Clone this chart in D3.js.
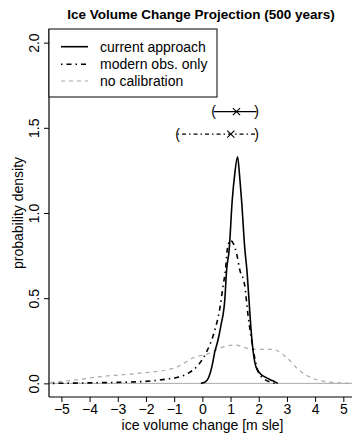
<!DOCTYPE html>
<html>
<head>
<meta charset="utf-8">
<script src="https://cdn.jsdelivr.net/npm/d3@7"></script>
<style>
  html, body { margin: 0; padding: 0; background: #fff; }
  svg { display: block; }
  text { font-family: "Liberation Sans", Arial, Helvetica, sans-serif; fill: #000; }
</style>
</head>
<body>
<svg id="chart" width="352" height="433"></svg>
<script>
// ---------- data ----------
const currentX = [-0.05, 0.10, 0.21, 0.35, 0.44, 0.54, 0.66, 0.80, 0.86, 0.95, 1.06, 1.15, 1.25, 1.32, 1.39, 1.51, 1.58, 1.65, 1.72, 1.80, 1.90, 2.04, 2.25, 2.50, 2.68];
const currentY = [0.000, 0.008, 0.030, 0.107, 0.185, 0.244, 0.340, 0.500, 0.665, 0.782, 1.076, 1.230, 1.330, 1.220, 1.076, 0.782, 0.665, 0.500, 0.330, 0.190, 0.097, 0.060, 0.035, 0.015, 0.000];

const modernX = [-5.30, -4.00, -3.00, -2.20, -1.27, -0.83, -0.50, -0.15, 0.15, 0.42, 0.62, 0.74, 0.82, 0.88, 0.95, 1.00, 1.10, 1.21, 1.33, 1.50, 1.62, 1.72, 1.86, 1.98, 2.20, 2.60];
const modernY = [0.000, 0.003, 0.006, 0.010, 0.025, 0.037, 0.060, 0.107, 0.185, 0.300, 0.440, 0.577, 0.665, 0.780, 0.830, 0.840, 0.820, 0.765, 0.665, 0.577, 0.400, 0.283, 0.148, 0.068, 0.025, 0.000];

const nocalX = [-5.40, -4.50, -3.60, -2.20, -1.03, -0.23, 0.24, 0.60, 1.13, 1.78, 2.20, 2.49, 2.96, 3.43, 3.91, 4.38, 5.00, 5.50];
const nocalY = [0.005, 0.020, 0.040, 0.060, 0.088, 0.156, 0.176, 0.205, 0.225, 0.200, 0.200, 0.200, 0.156, 0.078, 0.030, 0.010, 0.002, 0.000];

// intervals: [low, estimate, high, height]
const currentInterval = [0.40, 1.21, 1.92, 1.595];
const modernInterval = [-0.88, 1.01, 1.92, 1.463];

const xTicks = [-5, -4, -3, -2, -1, 0, 1, 2, 3, 4, 5];
const yTicks = [0.0, 0.5, 1.0, 1.5, 2.0];
const legendLabels = ["current approach", "modern obs. only", "no calibration"];
const titleText = "Ice Volume Change Projection (500 years)";
const xLabel = "ice volume change [m sle]";
const yLabel = "probability density";

// ---------- layout ----------
const svg = d3.select("#chart");
const pL = 49, pT = 29, pB = 397, pR = 356;
const x = d3.scaleLinear().domain([-5.44, 5.45]).range([pL, pR]);
const y = d3.scaleLinear().domain([-0.08, 2.08]).range([pB, pT]);

svg.append("defs").append("clipPath").attr("id", "clip")
  .append("rect").attr("x", pL).attr("y", pT).attr("width", pR - pL).attr("height", pB - pT);

const plot = svg.append("g").attr("clip-path", "url(#clip)");

// zero line
plot.append("line")
  .attr("x1", pL).attr("x2", pR).attr("y1", y(0)).attr("y2", y(0))
  .attr("stroke", "#aaaaaa").attr("stroke-width", 1);

const line = d3.line().x(d => x(d[0])).y(d => y(d[1])).curve(d3.curveMonotoneX);

const series = [
  { xs: nocalX, ys: nocalY, color: "#aaaaaa", dash: "4,4", width: 1.2 },
  { xs: modernX, ys: modernY, color: "#000", dash: "1.5,4,5,4", width: 1.6 },
  { xs: currentX, ys: currentY, color: "#000", dash: null, width: 1.6 }
];
series.forEach(s => {
  plot.append("path")
    .datum(s.xs.map((v, i) => [v, s.ys[i]]))
    .attr("d", line)
    .attr("fill", "none")
    .attr("stroke", s.color)
    .attr("stroke-width", s.width)
    .attr("stroke-dasharray", s.dash);
});

// intervals
function drawInterval(iv, dash) {
  const [lo, est, hi, h] = iv;
  const g = svg.append("g");
  g.append("line")
    .attr("x1", x(lo)).attr("x2", x(hi)).attr("y1", y(h)).attr("y2", y(h))
    .attr("stroke", "#000").attr("stroke-width", 1.1)
    .attr("stroke-dasharray", dash);
  g.append("text").attr("x", x(lo)).attr("y", y(h) + 4.5)
    .attr("text-anchor", "middle").style("font-size", "14px").text("(");
  g.append("text").attr("x", x(hi)).attr("y", y(h) + 4.5)
    .attr("text-anchor", "middle").style("font-size", "14px").text(")");
  const cx = x(est), cy = y(h), r = 3.6;
  g.append("path")
    .attr("d", `M${cx - r},${cy - r}L${cx + r},${cy + r}M${cx - r},${cy + r}L${cx + r},${cy - r}`)
    .attr("stroke", "#000").attr("stroke-width", 1.1).attr("fill", "none");
}
drawInterval(currentInterval, null);
drawInterval(modernInterval, "1.5,3,4,3");

// axes lines (bty = "l")
svg.append("line").attr("x1", pL).attr("x2", pL).attr("y1", pT).attr("y2", pB)
  .attr("stroke", "#000").attr("stroke-width", 1.2);
svg.append("line").attr("x1", pL).attr("x2", pR).attr("y1", pB).attr("y2", pB)
  .attr("stroke", "#000").attr("stroke-width", 1.2);

// y axis
const yAxis = d3.axisLeft(y).tickValues(yTicks).tickSize(5).tickFormat(d3.format(".1f"));
const gy = svg.append("g").attr("transform", `translate(${pL},0)`).call(yAxis);
gy.select(".domain").remove();
gy.selectAll(".tick line").attr("stroke", "#000");
gy.selectAll(".tick text")
  .attr("x", 0).attr("dy", null)
  .attr("transform", "translate(-10,0) rotate(-90)")
  .attr("text-anchor", "middle")
  .style("font-size", "14px")
  .style("font-family", '"Liberation Sans", Arial, sans-serif');

// x axis
const xAxis = d3.axisBottom(x).tickValues(xTicks).tickSize(5)
  .tickFormat(d => d < 0 ? "\u2212" + Math.abs(d) : String(d));
const gx = svg.append("g").attr("transform", `translate(0,${pB})`).call(xAxis);
gx.select(".domain").remove();
gx.selectAll(".tick line").attr("stroke", "#000");
gx.selectAll(".tick text")
  .attr("y", 17).attr("dy", null)
  .style("font-size", "14px")
  .style("font-family", '"Liberation Sans", Arial, sans-serif');

// labels
svg.append("text").attr("x", 201).attr("y", 18.5).attr("text-anchor", "middle")
  .style("font-size", "13.5px").style("font-weight", "bold").text(titleText);
svg.append("text").attr("x", (pL + pR) / 2).attr("y", 430).attr("text-anchor", "middle")
  .style("font-size", "14px").text(xLabel);
svg.append("text").attr("transform", `translate(23,${(pT + pB) / 2}) rotate(-90)`)
  .attr("text-anchor", "middle").style("font-size", "14px").text(yLabel);

// legend
const lg = svg.append("g");
lg.append("rect").attr("x", pL).attr("y", pT).attr("width", 168).attr("height", 68)
  .attr("fill", "#fff").attr("stroke", "#000").attr("stroke-width", 1);
const legRows = [46.7, 64.3, 81];
const legStyles = [series[2], series[1], series[0]];
legendLabels.forEach((lab, i) => {
  lg.append("line").attr("x1", 61).attr("x2", 88).attr("y1", legRows[i]).attr("y2", legRows[i])
    .attr("stroke", legStyles[i].color).attr("stroke-width", legStyles[i].width)
    .attr("stroke-dasharray", legStyles[i].dash);
  lg.append("text").attr("x", 100).attr("y", legRows[i] + 5).style("font-size", "14px").text(lab);
});
</script>
</body>
</html>
